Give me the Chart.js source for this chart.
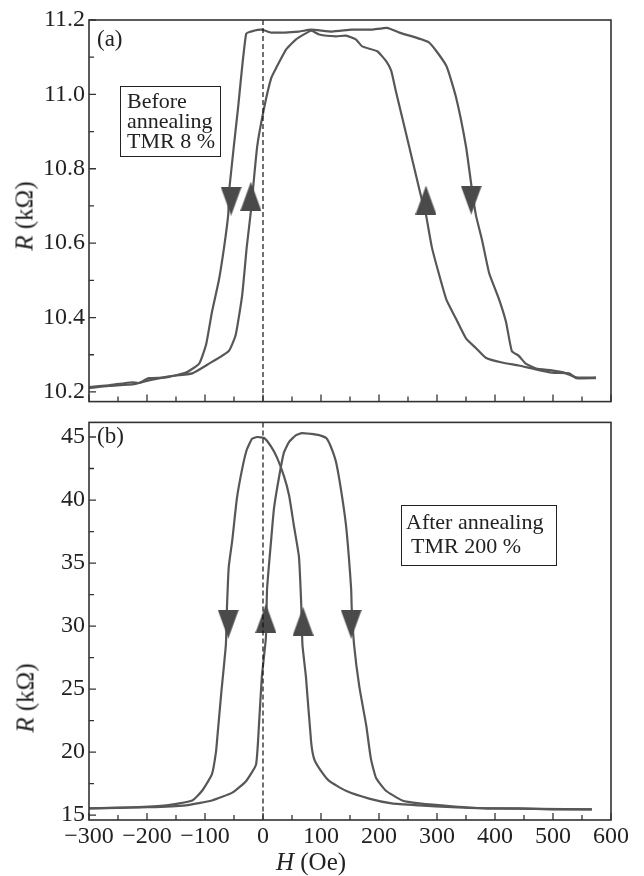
<!DOCTYPE html>
<html>
<head>
<meta charset="utf-8">
<script src="https://cdn.jsdelivr.net/npm/chart.js@4.4.1/dist/chart.umd.min.js"></script>
<style>
  html, body { margin: 0; padding: 0; background: #fff; }
  #wrap { position: relative; width: 644px; height: 876px; overflow: hidden;
          font-family: "Liberation Serif", "Times New Roman", serif; color: #222; }
  #wrap canvas { position: absolute; left: 0; }
  #cA { top: 0; }
  #cB { top: 404px; }
  .lbl { position: absolute; font-size: 23px; line-height: 23px; white-space: nowrap; }
  .box { position: absolute; border: 1.5px solid #222; box-sizing: border-box;
         font-size: 22px; white-space: nowrap; }
  .ytitle { position: absolute; font-size: 25px; line-height: 25px; white-space: nowrap;
            transform: translate(-50%, -50%) rotate(-90deg); }
  .xtitle { position: absolute; font-size: 25px; line-height: 25px; white-space: nowrap;
            transform: translateX(-50%); }
</style>
</head>
<body>
<div id="wrap">
  <canvas id="cA" width="644" height="420"></canvas>
  <canvas id="cB" width="644" height="472"></canvas>

  <div class="lbl" style="left:97px; top:27px;">(a)</div>
  <div class="box" style="left:120px; top:86px; width:101px; height:71px; line-height:20px; padding:4px 0 0 6px;">
    Before<br>annealing<br>TMR 8 %
  </div>

  <div class="lbl" style="left:97px; top:424px;">(b)</div>
  <div class="box" style="left:401px; top:505px; width:156px; height:61px; line-height:24px; padding:4px 0 0 4px;">
    After annealing<br><span style="padding-left:5px">TMR 200 %</span>
  </div>

  <div class="ytitle" style="left:24px; top:216px;"><i>R</i> (kΩ)</div>
  <div class="ytitle" style="left:25px; top:698px;"><i>R</i> (kΩ)</div>
  <div class="xtitle" style="left:311px; top:849px;"><i>H</i> (Oe)</div>
</div>

<script>
// ---- tick values ----
const hTickMajor = [-300, -200, -100, 0, 100, 200, 300, 400, 500, 600];
const hTickMinor = [-250, -150, -50, 50, 150, 250, 350, 450, 550];
const rTickMajorA = [10.2, 10.4, 10.6, 10.8, 11.0, 11.2];
const rTickMinorA = [10.3, 10.5, 10.7, 10.9, 11.1];
const rTickMajorB = [15, 20, 25, 30, 35, 40, 45];
const rTickMinorB = [17.5, 22.5, 27.5, 32.5, 37.5, 42.5];

// ---- (a) before annealing ----
const hA1 = [-300, -266, -226, -214, -197, -167, -133, -110, -98, -88, -76, -67, -60, -58, -43, -29, -16, -2, 14, 62,
             83, 119, 153, 188, 214, 235, 286, 316, 333, 350, 360, 367, 378, 390, 407, 419, 429, 441, 453, 471,
             498, 519, 540, 574];
const rA1 = [10.213, 10.218, 10.226, 10.224, 10.237, 10.239, 10.252, 10.276, 10.328, 10.415, 10.501, 10.590, 10.676,
             10.747, 10.964, 11.163, 11.171, 11.174, 11.166, 11.169, 11.174, 11.169, 11.174, 11.174, 11.179, 11.166,
             11.140, 11.077, 10.991, 10.860, 10.747, 10.676, 10.606, 10.519, 10.449, 10.388, 10.310, 10.297, 10.276,
             10.263, 10.258, 10.252, 10.239, 10.239];

const hA2 = [-300, -266, -222, -197, -162, -122, -93, -59, -47, -36, -28, -21, -10, 2, 14, 22, 40, 57, 83, 97,
             126, 143, 160, 171, 197, 212, 221, 229, 240, 252, 264, 272, 281, 291, 303, 316, 333, 350, 367, 384,
             412, 441, 464, 498, 528, 540, 574];
const rA2 = [10.210, 10.216, 10.221, 10.231, 10.242, 10.250, 10.276, 10.310, 10.354, 10.459, 10.590, 10.684, 10.860,
             10.964, 11.043, 11.069, 11.121, 11.148, 11.171, 11.161, 11.156, 11.158, 11.148, 11.129, 11.116, 11.090,
             11.064, 11.009, 10.938, 10.860, 10.781, 10.729, 10.676, 10.590, 10.519, 10.449, 10.396, 10.344, 10.318,
             10.292, 10.279, 10.271, 10.263, 10.252, 10.250, 10.237, 10.237];

const arrowHA = [-55, -21, 281, 359];
const arrowRA = [10.713, 10.726, 10.716, 10.716];
const arrowDirA = ['down', 'up', 'up', 'down'];

// ---- (b) after annealing ----
const hB1 = [-300, -226, -167, -122, -105, -88, -81, -78, -72, -64, -62, -59, -53, -45, -36, -28, -19, -10, 2, 14,
             24, 36, 45, 53, 62, 66, 68, 74, 83, 88, 97, 114, 143, 183, 222, 269, 326, 385, 441, 498, 567];
const rB1 = [15.54, 15.62, 15.77, 16.16, 16.93, 18.25, 20.03, 21.57, 24.66, 28.53, 31.62, 34.71, 36.80, 40.13, 42.45,
             43.99, 44.85, 45.00, 44.92, 44.23, 43.38, 41.91, 40.36, 38.04, 35.49, 31.62, 28.53, 25.98, 20.80, 19.48,
             18.71, 17.71, 16.93, 16.31, 15.93, 15.77, 15.62, 15.54, 15.54, 15.46, 15.46];

const hB2 = [-300, -197, -133, -88, -53, -29, -12, -7, -2, 5, 7, 14, 19, 28, 36, 45, 57, 67, 97, 109,
             117, 126, 135, 143, 148, 152, 153, 157, 166, 178, 186, 195, 212, 240, 269, 326, 385, 567];
const rB2 = [15.54, 15.62, 15.77, 16.16, 16.78, 17.71, 19.02, 22.11, 25.98, 29.07, 32.94, 36.80, 39.36, 41.91, 43.76,
             44.61, 45.15, 45.31, 45.15, 44.92, 44.23, 42.99, 40.67, 38.04, 35.49, 32.94, 31.39, 28.53, 25.21, 22.11,
             19.48, 17.94, 16.93, 16.16, 15.93, 15.70, 15.54, 15.46];

const arrowHB = [-60, 5, 69, 152];
const arrowRB = [30.15, 30.6, 30.38, 30.15];
const arrowDirB = ['down', 'up', 'up', 'down'];

// ---- styles ----
const LINE = '#575757';
const INK = '#222';
const FONT = { family: '"Liberation Serif", "Times New Roman", serif', size: 24 };

// ── arrow heads as small canvases ──
function triangle(dir) {
  const c = document.createElement('canvas');
  c.width = 21; c.height = 29;
  const g = c.getContext('2d');
  g.fillStyle = '#4a4a4a';
  g.beginPath();
  if (dir === 'down') { g.moveTo(0, 0); g.lineTo(21, 0); g.lineTo(10.5, 29); }
  else { g.moveTo(10.5, 0); g.lineTo(21, 29); g.lineTo(0, 29); }
  g.closePath();
  g.fill();
  return c;
}
const triUp = triangle('up');
const triDown = triangle('down');

function xy(h, r) { return h.map((v, i) => ({ x: v, y: r[i] })); }

function lineSet(h, r) {
  return { data: xy(h, r), borderColor: LINE, borderWidth: 2.2, pointRadius: 0, fill: false, tension: 0.15 };
}

function arrowSet(h, r, dir) {
  return {
    data: xy(h, r), showLine: false, pointRadius: 10, clip: false,
    pointStyle: ctx => dir[ctx.dataIndex] === 'up' ? triUp : triDown
  };
}

// ── frame, inward ticks, dashed zero line ──
function framePlugin(yMajor, yMinor) {
  return {
    id: 'frame',
    afterDraw(chart) {
      const { ctx, chartArea: a, scales } = chart;
      ctx.save();
      // dashed H = 0
      const x0 = scales.x.getPixelForValue(0);
      ctx.strokeStyle = '#111';
      ctx.lineWidth = 1.2;
      ctx.setLineDash([5, 3]);
      ctx.beginPath(); ctx.moveTo(x0, a.top); ctx.lineTo(x0, a.bottom); ctx.stroke();
      ctx.setLineDash([]);

      ctx.strokeStyle = '#333';
      ctx.lineWidth = 1.6;
      ctx.strokeRect(a.left, a.top, a.right - a.left, a.bottom - a.top);

      ctx.lineWidth = 1.3;
      ctx.beginPath();
      const yTick = (v, len) => { const p = scales.y.getPixelForValue(v); ctx.moveTo(a.left, p); ctx.lineTo(a.left + len, p); };
      const xTick = (v, len) => { const p = scales.x.getPixelForValue(v); ctx.moveTo(p, a.bottom); ctx.lineTo(p, a.bottom - len); };
      yMajor.forEach(v => yTick(v, 7));
      yMinor.forEach(v => yTick(v, 5));
      hTickMajor.forEach(v => xTick(v, 7));
      hTickMinor.forEach(v => xTick(v, 5));
      ctx.stroke();
      ctx.restore();
    }
  };
}

const fixTicks = values => scale => { scale.ticks = values.map(v => ({ value: v })); };

// ── (a) ──
new Chart(document.getElementById('cA'), {
  type: 'line',
  data: { datasets: [arrowSet(arrowHA, arrowRA, arrowDirA), lineSet(hA1, rA1), lineSet(hA2, rA2)] },
  options: {
    responsive: false, animation: false,
    layout: { padding: { top: 20, right: 33, bottom: 8, left: 0 } },
    plugins: { legend: { display: false }, tooltip: { enabled: false } },
    scales: {
      x: {
        type: 'linear', min: -300, max: 600,
        ticks: { display: false },
        grid: { display: false }, border: { display: false },
        afterFit: s => { s.height = 0; }
      },
      y: {
        type: 'linear', min: 10.174, max: 11.2,
        afterBuildTicks: fixTicks(rTickMajorA),
        ticks: { font: FONT, color: INK, padding: 4, callback: v => v.toFixed(1) },
        grid: { display: false, drawTicks: false }, border: { display: false },
        afterFit: s => { s.width = 89; }
      }
    }
  },
  plugins: [framePlugin(rTickMajorA, rTickMinorA)]
});

// ── (b) ──
new Chart(document.getElementById('cB'), {
  type: 'line',
  data: { datasets: [arrowSet(arrowHB, arrowRB, arrowDirB), lineSet(hB1, rB1), lineSet(hB2, rB2)] },
  options: {
    responsive: false, animation: false,
    layout: { padding: { top: 8, right: 33, bottom: 0, left: 0 } },
    plugins: { legend: { display: false }, tooltip: { enabled: false } },
    scales: {
      x: {
        type: 'linear', min: -300, max: 600,
        afterBuildTicks: fixTicks(hTickMajor),
        ticks: { font: FONT, color: INK, padding: 2, maxRotation: 0, autoSkip: false,
                 callback: v => v < 0 ? '\u2212' + Math.abs(v) : String(v) },
        grid: { display: false, drawTicks: false }, border: { display: false },
        afterFit: s => { s.height = 56; }
      },
      y: {
        type: 'linear', min: 14.61, max: 46.16,
        afterBuildTicks: fixTicks(rTickMajorB),
        ticks: { font: FONT, color: INK, padding: 4, callback: v => String(v) },
        grid: { display: false, drawTicks: false }, border: { display: false },
        afterFit: s => { s.width = 89; }
      }
    }
  },
  plugins: [framePlugin(rTickMajorB, rTickMinorB)]
});
</script>
</body>
</html>
